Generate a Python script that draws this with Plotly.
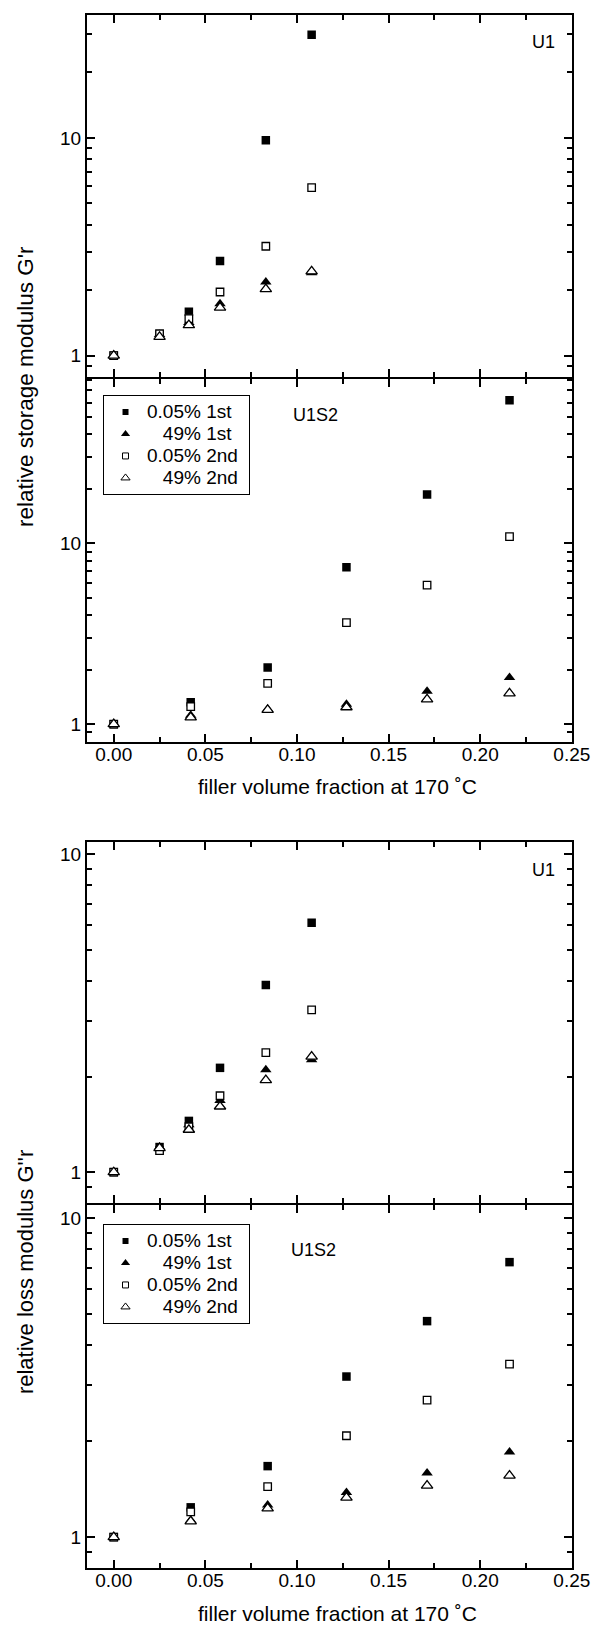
import math
import plotly.graph_objects as go

# filler volume fraction at 170 °C
x_u1 = [0.0, 0.025, 0.041, 0.058, 0.083, 0.108]
x_u1s2 = [0.0, 0.042, 0.084, 0.127, 0.171, 0.216]

# relative storage modulus G'r
gs_u1_005_1st = [1.0, 1.25, 1.59, 2.72, 9.76, 29.8]
gs_u1_49_1st = [1.0, 1.25, 1.42, 1.73, 2.18, 2.40]
gs_u1_005_2nd = [1.0, 1.26, 1.48, 1.96, 3.18, 5.91]
gs_u1_49_2nd = [1.0, 1.22, 1.38, 1.66, 2.02, 2.44]

gs_u1s2_005_1st = [1.0, 1.32, 2.06, 7.38, 18.6, 61.8]
gs_u1s2_49_1st = [1.0, 1.12, 1.21, 1.29, 1.52, 1.81]
gs_u1s2_005_2nd = [1.0, 1.25, 1.68, 3.64, 5.87, 10.9]
gs_u1s2_49_2nd = [1.0, 1.09, 1.20, 1.24, 1.37, 1.48]

# relative loss modulus G''r
gl_u1_005_1st = [1.0, 1.20, 1.45, 2.13, 3.88, 6.09]
gl_u1_49_1st = [1.0, 1.20, 1.41, 1.68, 2.10, 2.26]
gl_u1_005_2nd = [1.0, 1.17, 1.39, 1.74, 2.38, 3.24]
gl_u1_49_2nd = [1.0, 1.19, 1.36, 1.61, 1.95, 2.31]

gl_u1s2_005_1st = [1.0, 1.24, 1.67, 3.19, 4.76, 7.29]
gl_u1s2_49_1st = [1.0, 1.13, 1.26, 1.38, 1.59, 1.85]
gl_u1s2_005_2nd = [1.0, 1.20, 1.44, 2.08, 2.69, 3.49]
gl_u1s2_49_2nd = [1.0, 1.12, 1.23, 1.33, 1.45, 1.56]

names = ["0.05% 1st", "\u00a0\u00a0\u00a049% 1st", "0.05% 2nd", "\u00a0\u00a0\u00a049% 2nd"]
x_ticks = [0.0, 0.05, 0.10, 0.15, 0.20, 0.25]
y_ticks = [1, 10]
y_ticktext = ["1", "10"]

FONT = "Liberation Sans, Arial, sans-serif"
W, H = 602, 1625
LW = 2  # frame line width
# frame line centres (px)
L, R, T, B = 86, 581.7, 14, 1569


def px(x):
    return (x - (L + LW / 2)) / ((R - LW / 2) - (L + LW / 2))


def py(y):
    return ((B - LW / 2) - y) / ((B - LW / 2) - (T + LW / 2))


styles = [
    dict(symbol="square", size=8.5, color="black", line=dict(width=0)),
    dict(symbol="triangle-up", size=10, color="black", line=dict(width=0)),
    dict(symbol="square", size=7.5, color="white", line=dict(color="black", width=1.3)),
    dict(symbol="triangle-up", size=10, color="white", line=dict(color="black", width=1.3)),
]
legend_styles = [
    dict(symbol="square", size=6, color="black", line=dict(width=0)),
    dict(symbol="triangle-up", size=8, color="black", line=dict(width=0)),
    dict(symbol="square", size=6, color="white", line=dict(color="black", width=1)),
    dict(symbol="triangle-up", size=8, color="white", line=dict(color="black", width=1)),
]

panels = [
    (x_u1, [gs_u1_005_1st, gs_u1_49_1st, gs_u1_005_2nd, gs_u1_49_2nd], None),
    (x_u1s2, [gs_u1s2_005_1st, gs_u1s2_49_1st, gs_u1s2_005_2nd, gs_u1s2_49_2nd], "legend"),
    (x_u1, [gl_u1_005_1st, gl_u1_49_1st, gl_u1_005_2nd, gl_u1_49_2nd], None),
    (x_u1s2, [gl_u1s2_005_1st, gl_u1s2_49_1st, gl_u1s2_005_2nd, gl_u1s2_49_2nd], "legend2"),
]

fig = go.Figure()
for i, (xs, series, leg) in enumerate(panels, start=1):
    xa, ya = f"x{i}" if i > 1 else "x", f"y{i}" if i > 1 else "y"
    for ys, st in zip(series, styles):
        fig.add_trace(go.Scatter(x=xs, y=ys, mode="markers", marker=st,
                                 xaxis=xa, yaxis=ya, showlegend=False, hoverinfo="skip"))
    if leg:
        # big text in a compact row: row height follows legend.font, text size follows the span
        for name, st in zip(names, legend_styles):
            fig.add_trace(go.Scatter(x=[None], y=[None], mode="markers", marker=st,
                                     name=f'<span style="font-size:19px">{name}\u00a0</span>',
                                     xaxis=xa, yaxis=ya, legend=leg))

# panel frame line centres (top, bottom) in px, and log-range tops
extents = [(14, 377.7), (377.7, 742.7), (840.7, 1204), (1204, 1569)]
y_tops = [1.565, 1.91, 1.04, 1.042]
y_minor = [m * 10 ** e for e in (-1, 0, 1) for m in range(2, 10)]

tick_font = dict(family=FONT, size=19, color="black")
layout = {}
for i, ((top, bot), ytop) in enumerate(zip(extents, y_tops), start=1):
    sfx = str(i) if i > 1 else ""
    layout["xaxis" + sfx] = dict(
        domain=[0, 1], anchor="y" + sfx, range=[-0.0146, 0.2501],
        tickvals=x_ticks, tickformat=".2f", showticklabels=i in (2, 4),
        ticklabelstandoff=-6,
        showline=True, linewidth=LW, linecolor="black", mirror="ticks",
        ticks="inside", ticklen=8, tickwidth=1.5, tickcolor="black",
        minor=dict(dtick=0.025, tick0=0, ticks="inside", ticklen=5, tickwidth=1.5, tickcolor="black"),
        showgrid=False, zeroline=False, tickfont=tick_font,
    )
    layout["yaxis" + sfx] = dict(
        domain=[py(bot - LW / 2), py(top + LW / 2)], anchor="x" + sfx, type="log",
        range=[math.log10(0.8), ytop],
        tickvals=y_ticks, ticktext=y_ticktext,
        showline=True, linewidth=LW, linecolor="black", mirror="ticks",
        ticks="inside", ticklen=8, tickwidth=1.5, tickcolor="black",
        minor=dict(tickmode="array", tickvals=y_minor, ticks="inside", ticklen=5,
                   tickwidth=1.5, tickcolor="black"),
        showgrid=False, zeroline=False, tickfont=tick_font,
    )

legend_common = dict(
    xanchor="left", yanchor="top", bgcolor="white", bordercolor="black", borderwidth=1,
    font=dict(family=FONT, size=14.6, color="black"), tracegroupgap=0, itemwidth=33,
)
layout["legend"] = dict(x=px(103.3), y=py(395), **legend_common)
layout["legend2"] = dict(x=px(103.3), y=py(1224), **legend_common)

ann_font = dict(family=FONT, size=18, color="black")
annotations = [
    dict(text="U1", x=px(552), y=py(42.5)),
    dict(text="U1S2", x=px(320), y=py(415)),
    dict(text="U1", x=px(552), y=py(870)),
    dict(text="U1S2", x=px(318), y=py(1250)),
]
for a in annotations:
    a.update(font=ann_font)
titles = [
    dict(text="filler volume fraction at 170 \u02daC", x=px(342), y=py(786), font_size=21),
    dict(text="filler volume fraction at 170 \u02daC", x=px(342), y=py(1613), font_size=21),
    dict(text="relative storage modulus G'r", x=px(24), y=py(387), textangle=-90, font_size=22.5),
    dict(text="relative loss modulus G''r", x=px(24), y=py(1272), textangle=-90, font_size=22),
]
for a in titles:
    size = a.pop("font_size")
    a.update(font=dict(family=FONT, size=size, color="black"))
annotations += titles
for a in annotations:
    a.update(xref="paper", yref="paper", showarrow=False, xanchor="center", yanchor="middle")

fig.update_layout(
    width=W, height=H,
    margin=dict(l=L + LW / 2, r=W - (R - LW / 2), t=T + LW / 2, b=H - (B - LW / 2), pad=0),
    paper_bgcolor="white", plot_bgcolor="white",
    font=dict(family=FONT, color="black"),
    annotations=annotations,
    **layout,
)

# the page body has a default 8px margin; drop it so the figure fills the window
fig.write_html("out.html", config={"displayModeBar": False},
               post_script="document.body.style.margin='0px';")
